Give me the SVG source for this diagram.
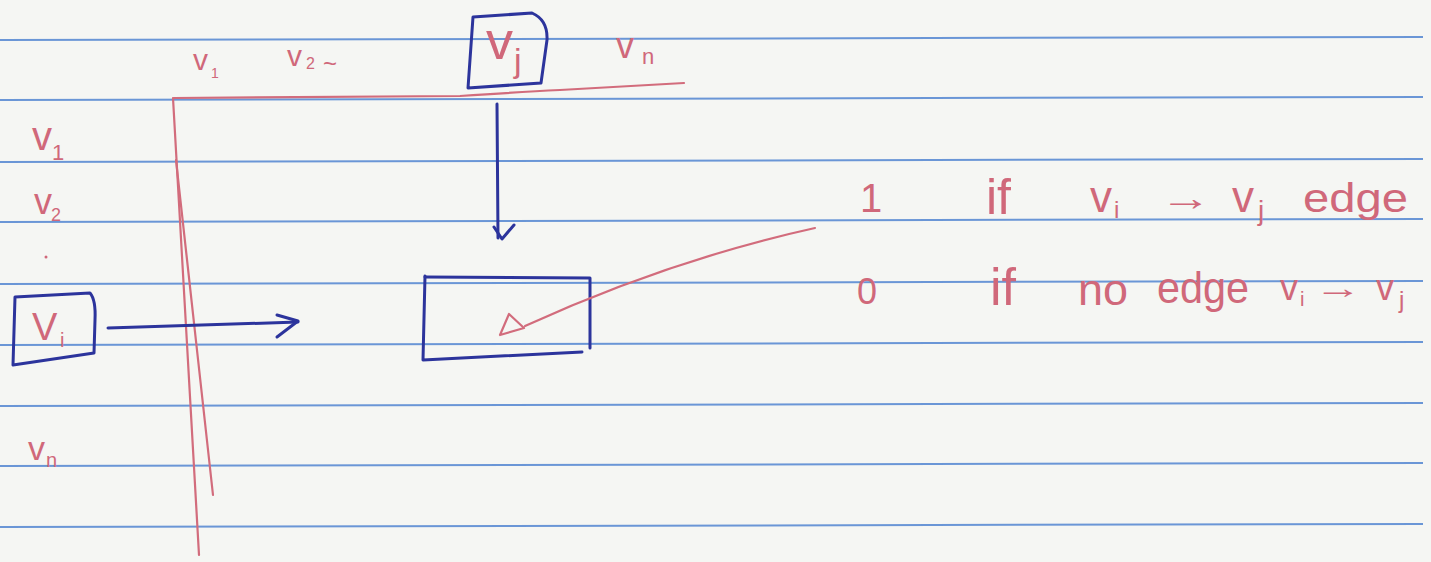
<svg xmlns="http://www.w3.org/2000/svg" width="1431" height="562" viewBox="0 0 1431 562">
<style>
.rule{stroke:#6a96d6;stroke-width:2;fill:none}
.ink{stroke:#2c349c;stroke-width:3;fill:none;stroke-linecap:round;stroke-linejoin:round}
.red{stroke:#d26c7c;stroke-width:2.2;fill:none;stroke-linecap:round;stroke-linejoin:round}
.t{font-family:"Liberation Sans","DejaVu Sans",sans-serif;fill:#d0687a}
</style>
<rect width="1431" height="562" fill="#f5f6f3"/>
<g id="ruled-lines" class="rule">
<line x1="0" y1="40" x2="1423" y2="37"/>
<line x1="0" y1="100" x2="1423" y2="97"/>
<line x1="0" y1="162" x2="1423" y2="159"/>
<line x1="0" y1="222" x2="1423" y2="219"/>
<line x1="0" y1="284" x2="1423" y2="281"/>
<line x1="0" y1="345" x2="1423" y2="342"/>
<line x1="0" y1="406" x2="1423" y2="403"/>
<line x1="0" y1="466" x2="1423" y2="463"/>
<line x1="0" y1="527" x2="1423" y2="524"/>
</g>
<g id="matrix-axes" class="red">
<path d="M174 98 L460 96 Q520 92 560 90 L684 83"/>
<path d="M173 98 L199 555"/>
<path d="M176 160 L213 495"/>
</g>
<g id="column-labels">
<text class="t" x="193" y="70" font-size="30">v</text>
<text class="t" x="211" y="78" font-size="14">1</text>
<text class="t" x="287" y="66" font-size="30">v</text>
<text class="t" x="306" y="69" font-size="16">2</text>
<text class="t" x="323" y="72" font-size="24">~</text>
<text class="t" x="616" y="58" font-size="36">v</text>
<text class="t" x="642" y="64" font-size="22">n</text>
</g>
<g id="row-labels">
<text class="t" x="32" y="150" font-size="40">v</text>
<text class="t" x="52" y="160" font-size="22">1</text>
<text class="t" x="34" y="214" font-size="36">v</text>
<text class="t" x="51" y="221" font-size="18">2</text>
<circle cx="46" cy="257" r="1.5" fill="#d0687a"/>
<text class="t" x="28" y="460" font-size="34">v</text>
<text class="t" x="46" y="467" font-size="20">n</text>
</g>
<g id="node-vj">
<path class="ink" d="M473 17 L532 13 Q548 20 547 40 L541 83 L468 88 Z"/>
<text class="t" x="486" y="59" font-size="54">v</text>
<text class="t" x="514" y="72" font-size="34">j</text>
</g>
<g id="node-vi">
<path class="ink" d="M15 297 L90 293 Q96 300 95 320 L94 353 L13 365 Z"/>
<text class="t" x="32" y="340" font-size="38">V</text>
<text class="t" x="60" y="347" font-size="20">i</text>
</g>
<g id="node-cell">
<path class="ink" d="M425 277 L590 278 L590 348"/>
<path class="ink" d="M425 276 L423 360 L582 352"/>
</g>
<g id="legend">
<text class="t" x="860" y="212" font-size="40">1</text>
<text class="t" x="986" y="214" font-size="50">if</text>
<text class="t" x="1090" y="212" font-size="44">v</text>
<text class="t" x="1114" y="218" font-size="24">i</text>
<text class="t" x="1160" y="210" font-size="36" textLength="52" lengthAdjust="spacingAndGlyphs">→</text>
<text class="t" x="1232" y="212" font-size="44">v</text>
<text class="t" x="1258" y="220" font-size="28">j</text>
<text class="t" x="1303" y="212" font-size="40" textLength="105" lengthAdjust="spacingAndGlyphs">edge</text>
<text class="t" x="857" y="304" font-size="36">0</text>
<text class="t" x="990" y="305" font-size="52">if</text>
<text class="t" x="1078" y="305" font-size="44" textLength="50" lengthAdjust="spacingAndGlyphs">no</text>
<text class="t" x="1157" y="303" font-size="44" textLength="92" lengthAdjust="spacingAndGlyphs">edge</text>
<text class="t" x="1280" y="300" font-size="36">v</text>
<text class="t" x="1300" y="306" font-size="20">i</text>
<text class="t" x="1314" y="298" font-size="30" textLength="48" lengthAdjust="spacingAndGlyphs">→</text>
<text class="t" x="1376" y="300" font-size="36">v</text>
<text class="t" x="1399" y="308" font-size="24">j</text>
</g>
<g id="connectors">
<path class="ink" d="M497 104 L498 238"/>
<path class="ink" d="M494 227 L502 239 L514 225"/>
<path class="ink" d="M108 328 L298 322"/>
<path class="ink" d="M277 315 L298 321 L277 337"/>
<path class="red" d="M815 228 Q670 260 525 326"/>
<path class="red" d="M509 314 L524 328 L500 335 Z"/>
</g>
</svg>
